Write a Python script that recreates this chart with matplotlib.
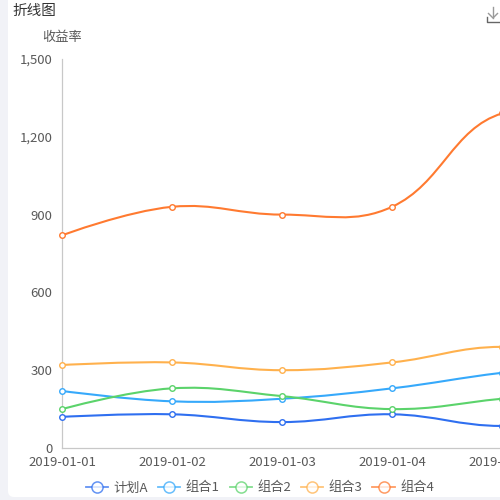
import matplotlib
matplotlib.use('Agg')
import matplotlib.pyplot as plt
import numpy as np
from matplotlib.path import Path
from matplotlib.patches import PathPatch, FancyBboxPatch
from matplotlib.lines import Line2D
from matplotlib.ticker import FuncFormatter

plt.rcParams['font.family'] = ['Noto Sans CJK SC', 'DejaVu Sans']

# data (last date sits outside the visible area)
dates = ['2019-01-01', '2019-01-02', '2019-01-03', '2019-01-04', '2019-01-05', '2019-01-06']
names = ['计划A', '组合1', '组合2', '组合3', '组合4']
plan_a = [120, 130, 100, 130, 85, 130]
combo1 = [220, 180, 190, 230, 290, 330]
combo2 = [150, 230, 200, 150, 190, 230]
combo3 = [320, 330, 300, 330, 390, 330]
combo4 = [820, 930, 900, 930, 1290, 1185]
y_ticks = [0, 300, 600, 900, 1200, 1500]

colors = ['#2f6ff0', '#36a9fb', '#5bd36b', '#ffb14d', '#ff7a30']
series = [plan_a, combo1, combo2, combo3, combo4]

W, H = 500, 500
fig = plt.figure(figsize=(5, 5), dpi=100)
fig.patch.set_facecolor('#f1f2f7')

# white card behind everything
card = FancyBboxPatch((8 / W, 3 / H), 600 / W, 600 / H,
                      boxstyle='round,pad=0,rounding_size=0.012',
                      transform=fig.transFigure, facecolor='white',
                      edgecolor='none', zorder=-10)
fig.patches.append(card)

# axes: x step 110px, first point on the y axis
left, bottom, top = 62, 448, 59
step = 110
ax = fig.add_axes([left / W, (H - bottom) / H, step * (len(dates) - 1) / W, (bottom - top) / H])
ax.set_zorder(1)
ax.set_facecolor('none')
ax.set_xlim(0, len(dates) - 1)
ax.set_ylim(0, 1500)
ax.set_yticks(y_ticks)
ax.yaxis.set_major_formatter(FuncFormatter(lambda v, p: f'{int(v):,}'))
ax.set_xticks(range(len(dates)))
ax.set_xticklabels(dates)
ax.tick_params(length=0, labelsize=9.5, colors='#595959')
ax.tick_params(axis='y', pad=7)
ax.tick_params(axis='x', pad=6)
for s in ['top', 'right']:
    ax.spines[s].set_visible(False)
for s in ['left', 'bottom']:
    ax.spines[s].set_color('#c8c8c8')
    ax.spines[s].set_linewidth(0.9)


def smooth_path(xs, ys, smooth=0.4):
    # catmull-rom style bezier, control points worked out in pixel space
    pts = ax.transData.transform(np.column_stack([xs, ys]))
    n = len(pts)
    cp_in = pts.copy()
    cp_out = pts.copy()
    for i in range(1, n - 1):
        v = (pts[i + 1] - pts[i - 1]) * smooth
        d0 = np.hypot(*(pts[i] - pts[i - 1]))
        d1 = np.hypot(*(pts[i] - pts[i + 1]))
        tot = d0 + d1
        cp_in[i] = pts[i] - v * d0 / tot
        cp_out[i] = pts[i] + v * d1 / tot
    verts = [pts[0]]
    codes = [Path.MOVETO]
    for i in range(n - 1):
        verts += [cp_out[i], cp_in[i + 1], pts[i + 1]]
        codes += [Path.CURVE4] * 3
    verts = ax.transData.inverted().transform(np.array(verts))
    return Path(verts, codes)


x = np.arange(len(dates))
for vals, c in zip(series, colors):
    path = smooth_path(x, vals)
    ax.add_patch(PathPatch(path, facecolor='none', edgecolor=c, lw=1.5, zorder=3))
    ax.plot(x, vals, ls='none', marker='o', ms=4.0, mfc='white', mec=c, mew=1.0,
            zorder=4, clip_on=False)

# titles
fig.text(12 / W, 1 - 11 / H, '折线图', fontsize=10.5, color='#333333', va='center', ha='left')
fig.text(62 / W, 1 - 38 / H, '收益率', fontsize=9.5, color='#595959', va='center', ha='center')

# download icon
ic = '#9a9a9a'
fig.add_artist(Line2D([493 / W, 493 / W], [1 - 7 / H, 1 - 18 / H], color=ic, lw=1, transform=fig.transFigure))
fig.add_artist(Line2D([488.5 / W, 493 / W, 497.5 / W], [1 - 13.5 / H, 1 - 18 / H, 1 - 13.5 / H], color=ic, lw=1, transform=fig.transFigure))
fig.add_artist(Line2D([487 / W, 487 / W, 500 / W], [1 - 17 / H, 1 - 22 / H, 1 - 22 / H], color='#666666', lw=1, transform=fig.transFigure))

# legend
handles = [Line2D([], [], color=c, lw=1.3, alpha=0.75, marker='o', ms=8, mfc='white', mec=c, mew=1.1)
           for c in colors]
fig.legend(handles, names, loc='center', bbox_to_anchor=(260 / W, 1 - 488 / H), ncol=5,
           frameon=False, fontsize=9.5, handlelength=1.7, handletextpad=0.4, columnspacing=0.75,
           labelcolor='#595959')

fig.savefig('out.png', dpi=100)
